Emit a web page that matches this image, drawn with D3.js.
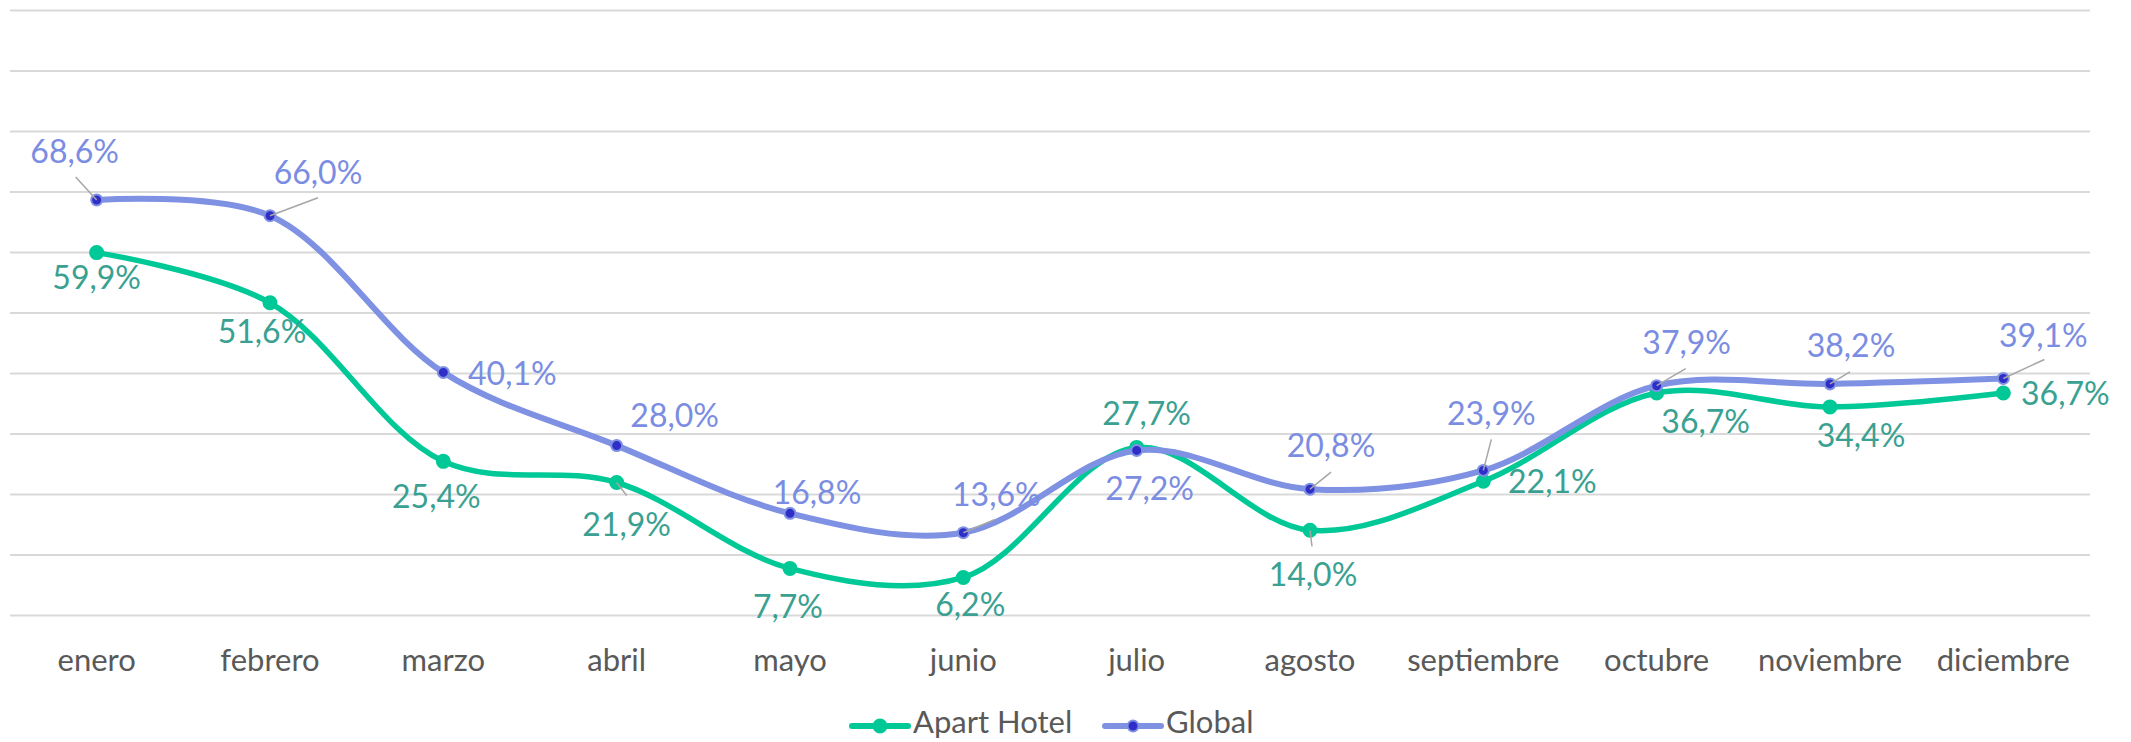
<!DOCTYPE html>
<html>
<head>
<meta charset="utf-8">
<script src="https://cdn.jsdelivr.net/npm/d3@7"></script>
<style>
  html, body { margin: 0; padding: 0; background: #ffffff; }
  svg { display: block; font-family: Lato, "Open Sans", sans-serif; }
</style>
</head>
<body>
<svg id="chart" width="2131" height="742"></svg>
<script>
// ---- data ----
const months = ["enero", "febrero", "marzo", "abril", "mayo", "junio", "julio", "agosto", "septiembre", "octubre", "noviembre", "diciembre"];
const apartHotel = [59.9, 51.6, 25.4, 21.9, 7.7, 6.2, 27.7, 14.0, 22.1, 36.7, 34.4, 36.7];
const globalRate = [68.6, 66.0, 40.1, 28.0, 16.8, 13.6, 27.2, 20.8, 23.9, 37.9, 38.2, 39.1];
const yTicks = [0, 10, 20, 30, 40, 50, 60, 70, 80, 90, 100];
const seriesNames = ["Apart Hotel", "Global"];

// ---- layout (label placement, px offsets from the point) ----
const apartLabelPos = [[0,36],[-8,40],[-7,47],[10,53],[-2,50],[7,39],[10,-22],[3,56],[69,12],[49,40],[31,40],[62,12]];
const apartLeaders  = [null,null,null,[10,13],null,null,null,[2,16],null,null,null,null];
const globalLabelPos = [[-22,-37],[48,-32],[69,13],[58,-19],[27,-9],[33,-27],[13,50],[21,-32],[8,-45],[30,-32],[21,-27],[40,-31]];
const globalLeaders  = [[-21,-23],[48,-18],null,null,null,[31,-13],null,[21,-17],[8,-31],[29,-17],[20,-12],[41,-19]];

const colors = {
  apartLine: "#00C896", apartLabel: "#3AA192",
  globalLine: "#7F91E3", globalMarker: "#2F2FC8", globalLabel: "#7B8DE2",
  grid: "#D9D9D9", text: "#595959", leader: "#A6A6A6"
};

(function () {
const svg = d3.select("#chart");
const pLeft = 10, pRight = 2090, pTop = 10, pBottom = 615;

const x = d3.scaleBand().domain(months).range([pLeft, pRight]);
const xc = m => x(m) + x.bandwidth() / 2;
const y = d3.scaleLinear().domain([0, 100]).range([pBottom, pTop]);

const loc = d3.formatLocale({decimal: ",", thousands: ".", grouping: [3], currency: ["", "€"]});
const fmt = v => loc.format(".1f")(v) + "%";

// gridlines
const gAxis = svg.append("g")
  .attr("transform", `translate(${pLeft},0)`)
  .call(d3.axisLeft(y).tickValues(yTicks).tickSize(-(pRight - pLeft)).tickFormat(""));
gAxis.select(".domain").remove();
gAxis.selectAll(".tick line").attr("stroke", colors.grid).attr("stroke-width", 2);

// category axis
const xAxis = svg.append("g")
  .attr("transform", `translate(0,${pBottom})`)
  .call(d3.axisBottom(x).tickSize(0).tickPadding(0));
xAxis.select(".domain").remove();
xAxis.selectAll(".tick text")
  .attr("dy", null)
  .attr("y", 56)
  .attr("fill", colors.text)
  .style("font-family", "Lato, sans-serif")
  .style("font-size", "31px");

const line = d3.line()
  .x((d, i) => xc(months[i]))
  .y(d => y(d))
  .curve(d3.curveCatmullRom.alpha(0.5));

function drawSeries(values, lineColor, lineWidth, markerFill, markerStroke, r) {
  const g = svg.append("g");
  g.append("path").datum(values)
    .attr("d", line)
    .attr("fill", "none")
    .attr("stroke", lineColor)
    .attr("stroke-width", lineWidth)
    .attr("stroke-linecap", "round");
  g.selectAll("circle").data(values).join("circle")
    .attr("cx", (d, i) => xc(months[i]))
    .attr("cy", d => y(d))
    .attr("r", r)
    .attr("fill", markerFill)
    .attr("stroke", markerStroke)
    .attr("stroke-width", 2);
  return g;
}

function drawLabels(values, labelColor, pos, leaders) {
  const g = svg.append("g");
  g.selectAll("line").data(values.map((d, i) => ({d, i})).filter(o => leaders[o.i]))
    .join("line")
    .attr("x1", o => xc(months[o.i]))
    .attr("y1", o => y(o.d))
    .attr("x2", o => xc(months[o.i]) + leaders[o.i][0])
    .attr("y2", o => y(o.d) + leaders[o.i][1])
    .attr("stroke", colors.leader)
    .attr("stroke-width", 1.5);
  g.selectAll("text").data(values).join("text")
    .attr("x", (d, i) => xc(months[i]) + pos[i][0])
    .attr("y", (d, i) => y(d) + pos[i][1])
    .attr("text-anchor", "middle")
    .attr("fill", labelColor)
    .style("font-size", "32px")
    .text(d => fmt(d));
}

drawSeries(apartHotel, colors.apartLine, 5.5, colors.apartLine, colors.apartLine, 6.5);
drawSeries(globalRate, colors.globalLine, 6, colors.globalMarker, colors.globalLine, 5.5);
drawLabels(apartHotel, colors.apartLabel, apartLabelPos, apartLeaders);
drawLabels(globalRate, colors.globalLabel, globalLabelPos, globalLeaders);

// legend
const legendItems = [
  {name: seriesNames[0], line: colors.apartLine, fill: colors.apartLine, stroke: colors.apartLine, r: 6.5, x: 852},
  {name: seriesNames[1], line: colors.globalLine, fill: colors.globalMarker, stroke: colors.globalLine, r: 5.5, x: 1105}
];
const lg = svg.append("g");
legendItems.forEach(it => {
  const gi = lg.append("g").attr("transform", `translate(${it.x},726)`);
  gi.append("line").attr("x1", 0).attr("x2", 56).attr("y1", 0).attr("y2", 0)
    .attr("stroke", it.line).attr("stroke-width", 6).attr("stroke-linecap", "round");
  gi.append("circle").attr("cx", 28).attr("cy", 0).attr("r", it.r)
    .attr("fill", it.fill).attr("stroke", it.stroke).attr("stroke-width", 2);
  gi.append("text").attr("x", 61).attr("y", 7)
    .attr("fill", colors.text).style("font-size", "31px").text(it.name);
});
})();
</script>
</body>
</html>
